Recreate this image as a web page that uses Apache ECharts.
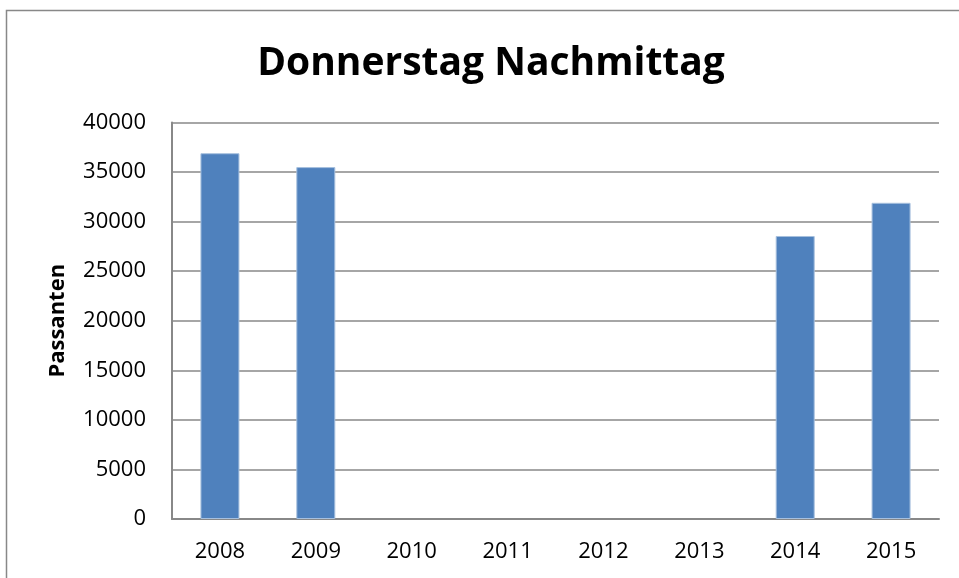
<!DOCTYPE html>
<html>
<head>
<meta charset="utf-8">
<script src="https://cdn.jsdelivr.net/npm/echarts@6/dist/echarts.min.js"></script>
<style>
  html, body { margin: 0; padding: 0; background: #fff; }
  #chart { width: 959px; height: 578px; }
</style>
</head>
<body>
<div id="chart"></div>
<script>
// values
const years = ['2008', '2009', '2010', '2011', '2012', '2013', '2014', '2015'];
const passanten = [36900, 35500, null, null, null, null, 28550, 31900];
const yTicks = [0, 5000, 10000, 15000, 20000, 25000, 30000, 35000, 40000];

const chartHolder = document.getElementById('chart');
const barChart = echarts.init(chartHolder);

const fontFamily = '"Open Sans", "Noto Sans", sans-serif';

const chartDescription = {
  animation: false,
  textStyle: { fontFamily: fontFamily },
  title: {
    text: 'Donnerstag Nachmittag',
    left: 486,
    top: 39,
    textAlign: 'center',
    textStyle: { fontSize: 39, fontWeight: 'bold', color: '#000', fontFamily: fontFamily }
  },
  grid: { left: 172, right: 20, top: 122.5, bottom: 59, containLabel: false },
  graphic: [
    {
      type: 'polyline',
      shape: { points: [[6.5, 578], [6.5, 10.5], [959, 10.5]] },
      style: { stroke: '#888', lineWidth: 1.5, fill: null }
    }
  ],
  xAxis: {
    type: 'category',
    data: years,
    axisLine: { lineStyle: { color: '#888', width: 2 } },
    axisTick: { show: false },
    axisLabel: { color: '#000', fontSize: 22, margin: 22, fontFamily: fontFamily }
  },
  yAxis: {
    type: 'value',
    min: yTicks[0],
    max: yTicks[yTicks.length - 1],
    interval: 5000,
    name: 'Passanten',
    nameLocation: 'middle',
    nameGap: 103,
    nameTextStyle: { fontSize: 22, fontWeight: 'bold', color: '#000', fontFamily: fontFamily },
    axisLine: { show: true, lineStyle: { color: '#888', width: 2 } },
    axisTick: { show: false },
    axisLabel: {
      color: '#000', fontSize: 22, margin: 26, fontFamily: fontFamily,
      formatter: (v) => String(v)
    },
    splitLine: { lineStyle: { color: '#888', width: 1.5 } }
  },
  series: [
    {
      name: 'Passanten',
      type: 'bar',
      data: passanten,
      barWidth: 39,
      itemStyle: { color: '#4F81BD', borderColor: '#A7C0DE', borderWidth: 1 }
    }
  ]
};

barChart.setOption(chartDescription);
</script>
</body>
</html>
